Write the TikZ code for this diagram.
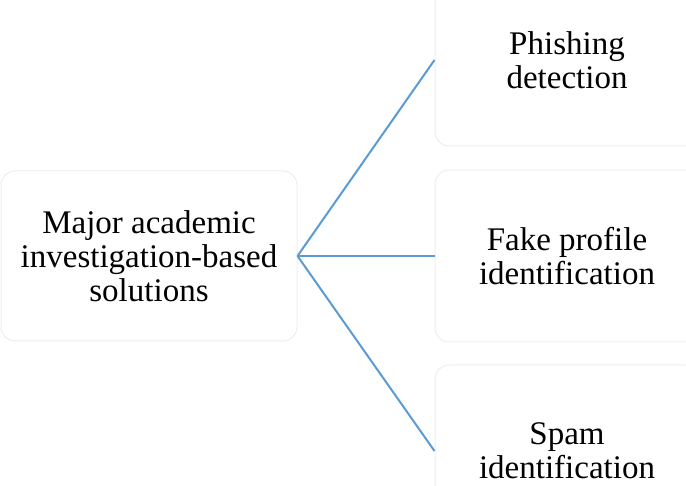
\documentclass[tikz,border=0pt]{standalone}
\usepackage{fontspec}
\setmainfont{Liberation Serif}
\definecolor{linkblue}{RGB}{91,155,213}
\definecolor{boxedge}{RGB}{238,238,238}
\begin{document}
\begin{tikzpicture}[x=1pt,y=-1pt,
  card/.style={draw=boxedge, line width=1pt, fill=white, rounded corners=14pt,
    align=center, inner sep=0pt, font=\fontsize{33}{34}\selectfont},
  hubcard/.style={card, minimum width=296pt, minimum height=170pt},
  leafcard/.style={card, minimum width=264pt, minimum height=172pt},
  link/.style={draw=linkblue, line width=2pt}]
  \useasboundingbox (0,0) rectangle (686,486);
  \clip (0,0) rectangle (686,486);
  % central topic and the three solution areas
  \node[hubcard]  (hub)   at (149,256) {Major academic\\investigation-based\\solutions};
  \node[leafcard] (phish) at (567,60)  {Phishing\\detection};
  \node[leafcard] (fake)  at (567,256) {Fake profile\\identification};
  \node[leafcard] (spam)  at (567,451) {Spam\\identification};
  % branches
  \draw[link] (hub.east) -- (phish.west);
  \draw[link] (hub.east) -- (fake.west);
  \draw[link] (hub.east) -- (spam.west);
\end{tikzpicture}
\end{document}
